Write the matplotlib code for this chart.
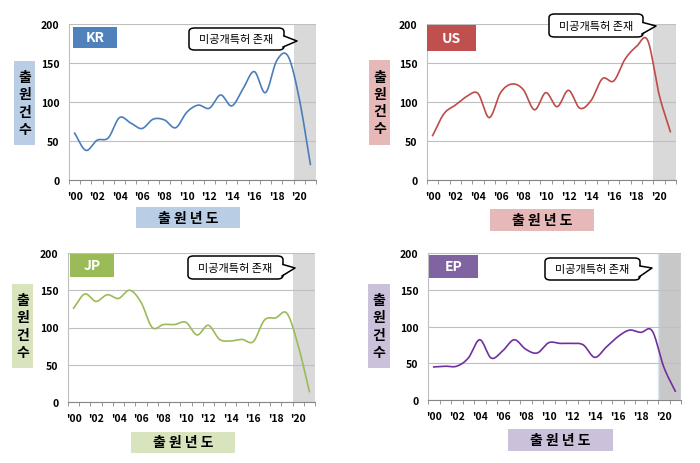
import numpy as np
import matplotlib
matplotlib.use("Agg")
import matplotlib.pyplot as plt
from matplotlib.patches import Rectangle, FancyBboxPatch, Polygon
from matplotlib.lines import Line2D

plt.rcParams['font.family'] = ['Noto Sans CJK KR', 'DejaVu Sans']

# data: patent applications per year, 2000-2021
years = list(range(2000, 2022))
tick_labels = ["'%02d" % (y % 100) for y in years[::2]]

kr = [60, 38, 51, 54, 80, 73, 66, 78, 77, 67, 87, 96, 92, 109, 95, 117, 139, 112, 153, 159, 105, 20]
us = [57, 85, 96, 107, 111, 80, 112, 123, 116, 90, 112, 94, 115, 92, 102, 130, 127, 155, 171, 179, 110, 62]
jp = [126, 145, 135, 144, 139, 150, 134, 100, 104, 104, 107, 90, 103, 84, 82, 84, 81, 110, 113, 119, 76, 14]
ep = [45, 46, 46, 57, 82, 57, 67, 82, 69, 64, 78, 77, 77, 75, 58, 72, 86, 95, 92, 94, 45, 12]

callout_text = "미공개특허 존재"
ylabel_text = "출\n원\n건\n수"
xlabel_text = "출 원 년 도"

W, H = 700, 464
fig = plt.figure(figsize=(7, 4.64), dpi=100)


def px_rect(x0, y0, x1, y1):
    # pixel box (top-left origin) -> figure fraction
    return [x0 / W, 1 - y1 / H, (x1 - x0) / W, (y1 - y0) / H]


def smooth(x, y, n=24):
    # catmull-rom, close to excel's smoothed line
    pts = np.column_stack([x, y]).astype(float)
    p = np.vstack([2 * pts[0] - pts[1], pts, 2 * pts[-1] - pts[-2]])
    t = np.linspace(0, 1, n, endpoint=False)[:, None]
    out = []
    for i in range(1, len(p) - 2):
        p0, p1, p2, p3 = p[i - 1], p[i], p[i + 1], p[i + 2]
        seg = 0.5 * (2 * p1 + (-p0 + p2) * t + (2 * p0 - 5 * p1 + 4 * p2 - p3) * t ** 2
                     + (-p0 + 3 * p1 - 3 * p2 + p3) * t ** 3)
        out.append(seg)
    out.append(pts[-1:])
    return np.vstack(out)


def box(x0, y0, x1, y1, color, text, tcolor, size, **kw):
    r = Rectangle((x0 / W, 1 - y1 / H), (x1 - x0) / W, (y1 - y0) / H,
                  transform=fig.transFigure, facecolor=color, edgecolor='none', zorder=5)
    fig.patches.append(r)
    fig.text((x0 + x1) / 2 / W, 1 - (y0 + y1) / 2 / H, text, color=tcolor, fontsize=size,
             fontweight='bold', ha='center', va='center', zorder=6, **kw)


def callout(x0, y0, x1, y1, tip):
    b = FancyBboxPatch((x0 / W, 1 - y1 / H), (x1 - x0) / W, (y1 - y0) / H,
                       boxstyle="round,pad=0,rounding_size=0.008", transform=fig.transFigure,
                       facecolor='white', edgecolor='black', linewidth=1.1, zorder=7)
    fig.patches.append(b)
    ym = (y0 + y1) / 2
    a = (x1, ym - 3)
    c = (x1 - 1, y1 - 3)
    pts = [(a[0] - 1.5, a[1]), tip, (c[0] - 1.5, c[1])]
    tri = Polygon([(px / W, 1 - py / H) for px, py in pts], closed=True,
                  transform=fig.transFigure, facecolor='white', edgecolor='none', zorder=8)
    fig.patches.append(tri)
    ln = Line2D([a[0] / W, tip[0] / W, c[0] / W], [1 - a[1] / H, 1 - tip[1] / H, 1 - c[1] / H],
                transform=fig.transFigure, color='black', linewidth=1.1, zorder=9)
    fig.lines.append(ln)
    fig.text((x0 + x1) / 2 / W, 1 - ym / H, callout_text, fontsize=8, ha='center', va='center',
             zorder=10)


panels = [
    dict(name='KR', vals=kr, line='#4a7ebb', dark='#4f81bd', light='#b9cde5',
         ax=(69, 25, 316, 181), tag=(73, 28, 117, 49), ylab=(14, 62, 35, 146),
         xlab=(136, 208, 240, 229), call=(189, 29, 284, 51), tip=(297, 42), band='#d9d9d9'),
    dict(name='US', vals=us, line='#be4b48', dark='#c0504d', light='#e6b9b8',
         ax=(427, 25, 676, 181), tag=(427, 26, 476, 52), ylab=(369, 61, 390, 146),
         xlab=(490, 210, 594, 232), call=(549, 15, 643, 38), tip=(656, 27), band='#d9d9d9'),
    dict(name='JP', vals=jp, line='#9bbb59', dark='#9bbb59', light='#d7e4bd',
         ax=(68, 254, 315, 403), tag=(70, 255, 114, 278), ylab=(12, 285, 33, 369),
         xlab=(131, 433, 235, 454), call=(188, 257, 283, 280), tip=(295, 269), band='#d9d9d9'),
    dict(name='EP', vals=ep, line='#7030a0', dark='#8064a2', light='#ccc1da',
         ax=(428, 254, 681, 401), tag=(429, 256, 478, 279), ylab=(368, 285, 390, 369),
         xlab=(508, 430, 613, 452), call=(545, 259, 640, 281), tip=(652, 269), band='#c8c8c8'),
]

x = np.arange(len(years))

for p in panels:
    ax = fig.add_axes(px_rect(*p['ax']))
    ax.axvspan(19.5, 21.5, facecolor=p['band'], zorder=0.5,
               edgecolor='#dce6f2' if p['name'] == 'EP' else 'none', lw=1.0)
    s = smooth(x, p['vals'])
    ax.plot(s[:, 0], s[:, 1], color=p['line'], lw=1.2, zorder=3)
    ax.set_xlim(-0.5, 21.5)
    ax.set_ylim(0, 200)
    ax.set_yticks([0, 50, 100, 150, 200])
    ax.set_xticks(x[::2])
    ax.set_xticklabels(tick_labels)
    ax.set_xticks(np.arange(-0.5, 22, 1), minor=True)
    ax.tick_params(axis='x', which='major', length=0, pad=8, labelsize=7.5, colors='#000000')
    ax.tick_params(axis='x', which='minor', length=3, color='#868686', direction='out')
    ax.tick_params(axis='y', length=0, pad=7, labelsize=7.5)
    for lab in ax.get_xticklabels() + ax.get_yticklabels():
        lab.set_fontweight('bold')
    ax.grid(axis='y', color='#bfbfbf', lw=0.8, zorder=1)
    ax.set_axisbelow(False)
    for side in ['top', 'right']:
        ax.spines[side].set_visible(False)
    ax.spines['left'].set_color('#bfbfbf')
    ax.spines['bottom'].set_color('#868686')

    box(*p['tag'], p['dark'], p['name'], 'white', 10)
    box(*p['ylab'], p['light'], ylabel_text, 'black', 10, linespacing=1.3)
    box(*p['xlab'], p['light'], xlabel_text, 'black', 10)
    callout(*p['call'], p['tip'])

fig.savefig('out.png', dpi=100)
